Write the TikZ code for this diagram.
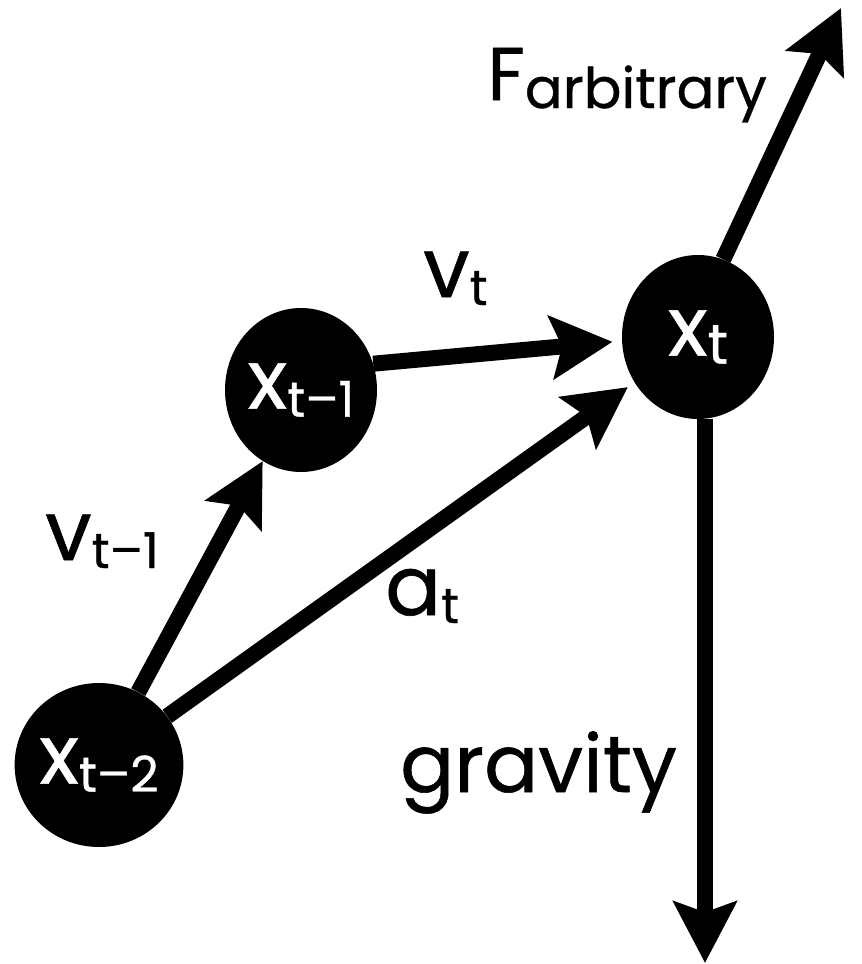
\documentclass[tikz,border=0pt]{standalone}
\usepackage{fontspec}
\setmainfont{Poppins}[FakeBold=0.7]
\usetikzlibrary{arrows.meta, shapes.geometric, calc}

\newcommand{\mainsize}{\fontsize{62pt}{62pt}\selectfont}
\newcommand{\subsize}{\fontsize{37pt}{37pt}\selectfont}
\newcommand{\withsub}[2]{#1\raisebox{-6pt}{\subsize #2}}

\tikzset{
  particle/.style={ellipse, fill=black, text=white, minimum width=114pt, minimum height=123pt, inner sep=0pt, font=\mainsize},
  vec/.style={line width=12pt, -{Stealth[length=46pt, width=47pt, inset=8pt]}},
  lbl/.style={anchor=base west, inner sep=0pt, font=\mainsize},
}

\begin{document}
\begin{tikzpicture}[x=0.75pt, y=-0.75pt]
  \useasboundingbox (0,0) rectangle (862,964);

  % Particles
  \node[particle] (xtt) at (99,765) {\withsub{x}{t--2}};
  \node[particle] (xt1) at (301,390) {\withsub{x}{t--1}};
  \node[particle] (xt) at (698,337) {\withsub{x}{\fontsize{42pt}{42pt}\selectfont t}};

  % Free ends of the forces
  \coordinate (Fend) at (841,8);
  \coordinate (gend) at (705,963);

  % Velocities and acceleration
  \draw[vec] (xtt) -- (xt1);
  \draw[vec, shorten >=7pt] (xt1.20) -- (xt.183);
  \draw[vec, shorten >=6pt] (xtt) -- (xt);

  % Forces
  \draw[vec] (xt.72) -- (Fend);
  \draw[vec] (xt.south -| gend) -- (gend);

  % Labels
  \node[lbl] (farb) at (487,100) {{\fontsize{56pt}{56pt}\selectfont F}\raisebox{-6pt}{\fontsize{42pt}{42pt}\selectfont arbitrary}};
  \node[lbl] (vt) at (423,297) {\withsub{v}{t}};
  \node[lbl] (vt1) at (45,560) {\withsub{v}{t--1}};
  \node[lbl] (at) at (385,615) {\withsub{a}{t}};
  \node[lbl, font=\fontsize{60pt}{60pt}\selectfont] (grav) at (400,792) {gravity};
\end{tikzpicture}
\end{document}
